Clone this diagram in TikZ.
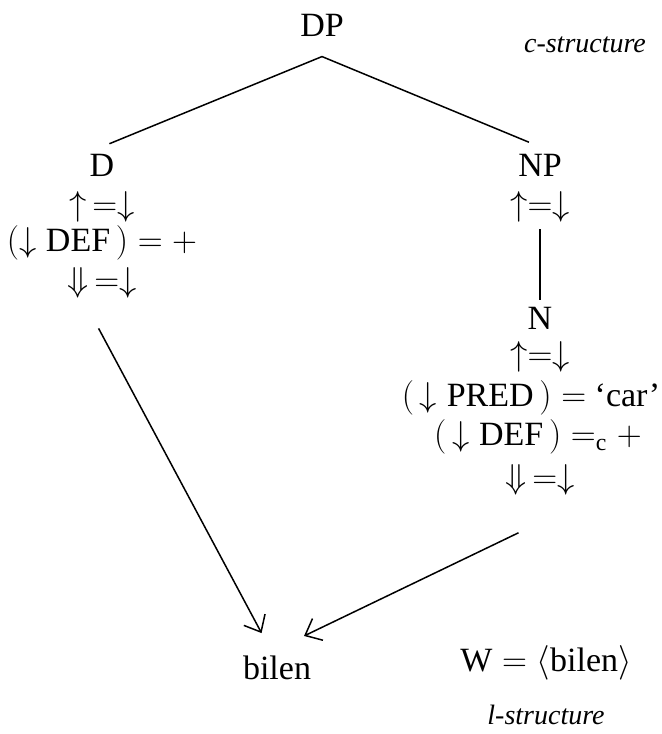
\documentclass[tikz,border=0pt]{standalone}
\usepackage{amsmath}
\usepackage{fontspec}
\setmainfont{Liberation Serif}
\usetikzlibrary{arrows,arrows.meta,positioning}

\begin{document}
\begin{tikzpicture}[x=0.5pt,y=-0.5pt,
  every node/.style={font=\fontsize{17}{20}\selectfont},
  lbl/.style={font=\fontsize{14}{16}\selectfont\itshape},
  branch/.style={line width=0.75pt},
  link/.style={line width=0.75pt,-{Straight Barb[length=7pt,width=12pt]}}]
\useasboundingbox (0,0) rectangle (662,734);

%Top
\node[inner sep=10pt] (dp) at (322,25) {DP};
\node[lbl] (cstr) at (585,45) {c-structure};

%Left daughter
\node (d) at (102,165) {D};
\node (d1) at (102,207) {$\uparrow\,=\downarrow$};
\node (d2) at (102,243) {$(\downarrow \mathrm{DEF}\,) = +$};
\node (d3) at (102,283) {$\Downarrow\,=\downarrow$};

%Right daughter
\node (np) at (540,165) {NP};
\node (np1) at (540,207) {$\uparrow=\downarrow$};
\node (n) at (540,318) {N};
\node (n1) at (540,357) {$\uparrow=\downarrow$};
\node (n2) at (531,398) {$(\,\downarrow \mathrm{PRED}\,) =$ ‘car’};
\node (n3) at (538,437) {$(\,\downarrow \mathrm{DEF}\,) =_{\mathrm{c}} +$};
\node (n4) at (540,480) {$\Downarrow\,=\downarrow$};

\draw [branch, shorten >=4pt] (dp.south) -- (d.north);
\draw [branch, shorten >=6pt] (dp.south) -- (np.north);
\draw [branch] (np1.south) -- (n.north);

%Bottom
\node (bilen) at (277,668) {bilen};
\node (wl) at (546,663) {$\mathrm{W} = \langle \text{bilen} \rangle$};
\node[lbl] (lstr) at (546,715) {l-structure};

\draw [link, shorten <=13pt, shorten >=9pt] (d3.235) -- (bilen.110);
\draw [link, shorten <=35pt, shorten >=15pt] (n4.south east) -- (bilen.north);
\end{tikzpicture}
\end{document}
